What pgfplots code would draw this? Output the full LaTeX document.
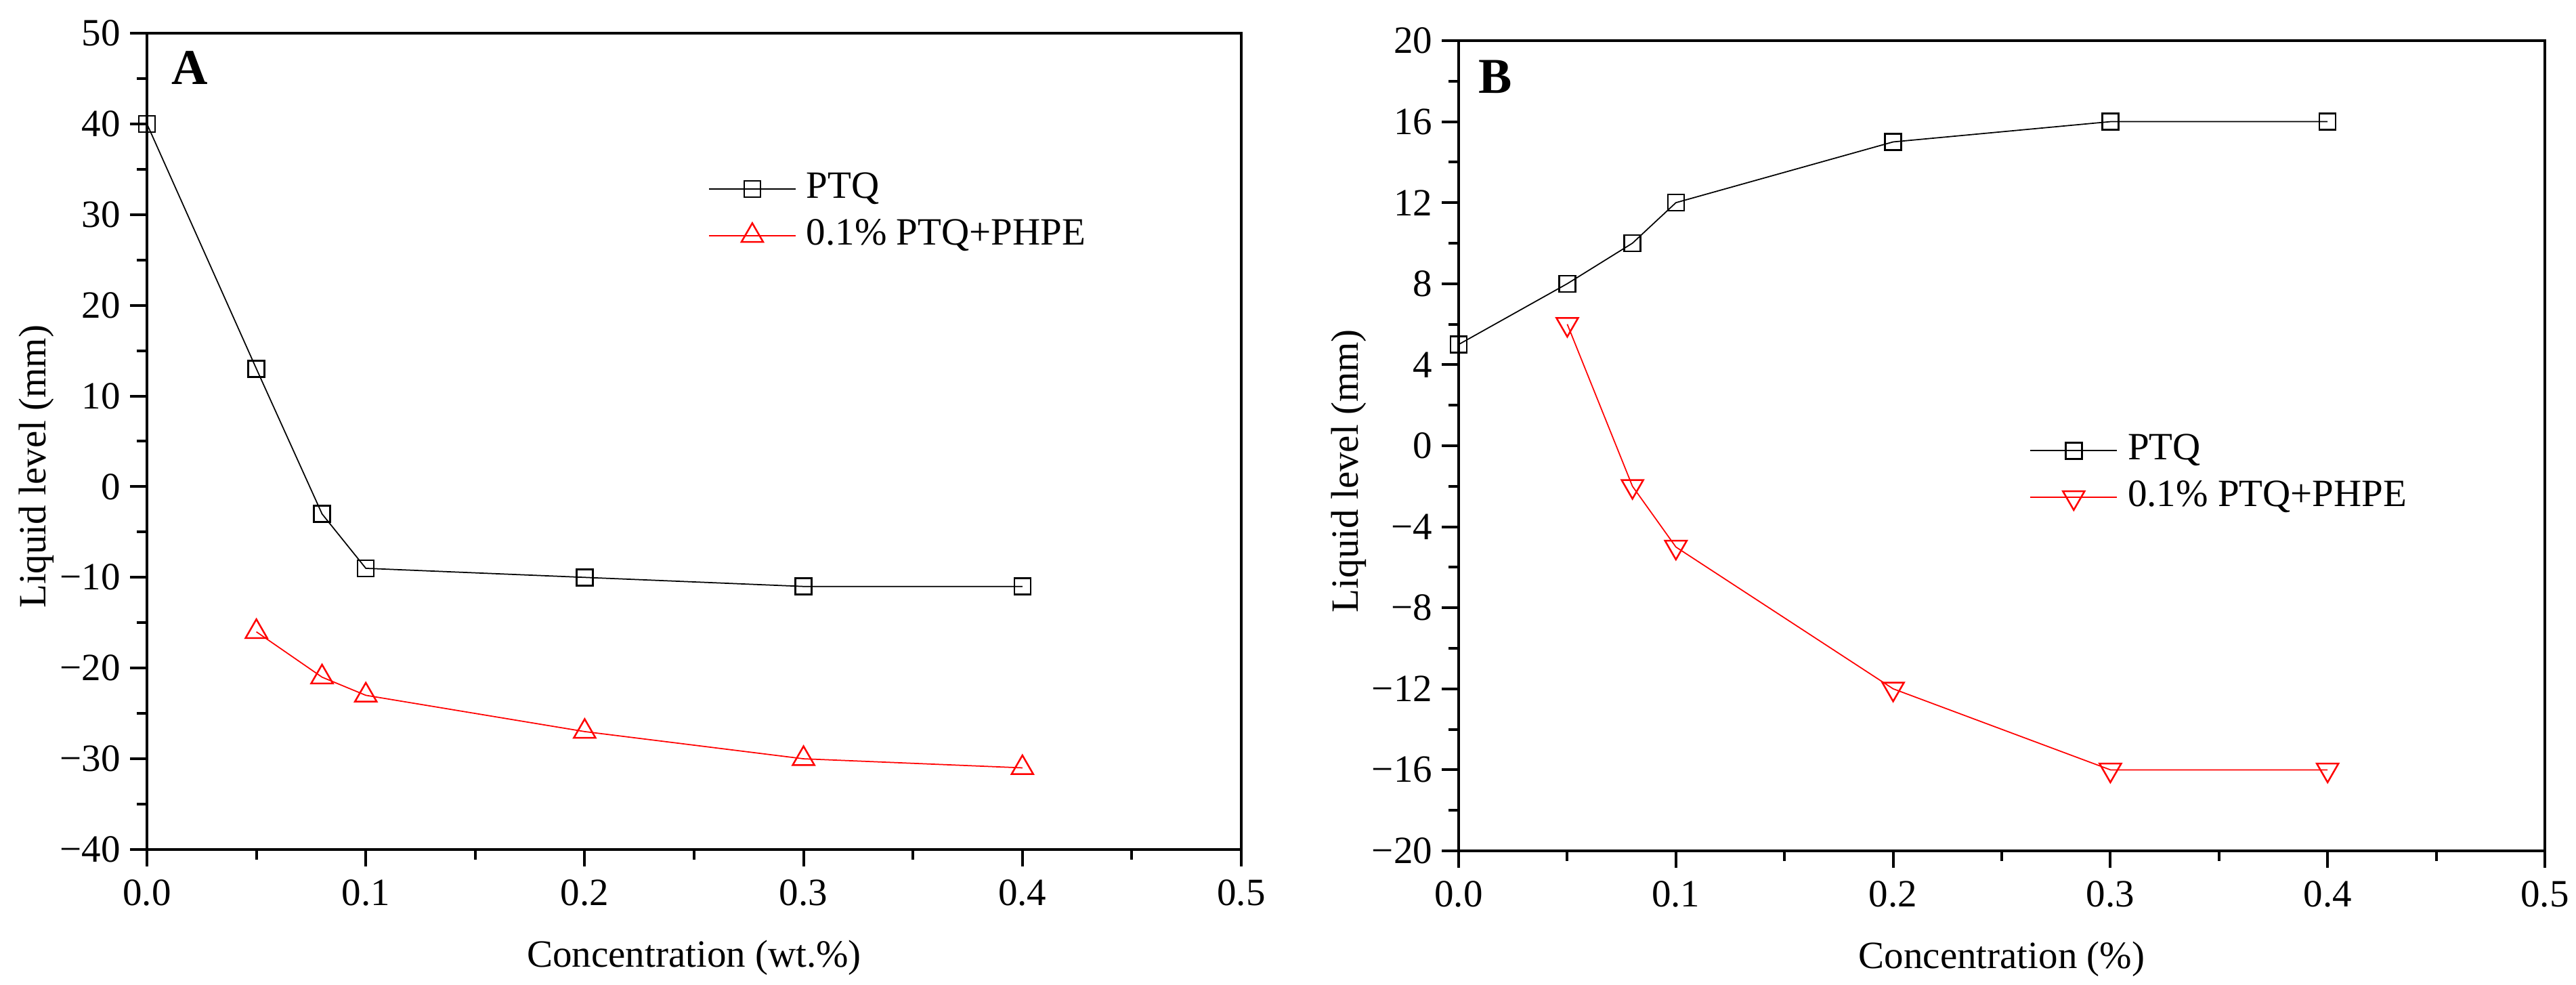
\documentclass[border=0pt]{standalone}
\usepackage{fontspec}
\setmainfont{Liberation Serif}
\usepackage{pgfplots}
\pgfplotsset{compat=1.18}

\pgfplotstableread{
x y
0 40
0.05 13
0.08 -3
0.1 -9
0.2 -10
0.3 -11
0.4 -11
}\APTQ
\pgfplotstableread{
x y
0.05 -16
0.08 -21
0.1 -23
0.2 -27
0.3 -30
0.4 -31
}\APHPE
\pgfplotstableread{
x y
0 5
0.05 8
0.08 10
0.1 12
0.2 15
0.3 16
0.4 16
}\BPTQ
\pgfplotstableread{
x y
0.05 6
0.08 -2
0.1 -5
0.2 -12
0.3 -16
0.4 -16
}\BPHPE

\pgfplotsset{
  panel/.style={
    scale only axis, anchor=south west,
    xmin=0, xmax=0.5,
    xtick={0,0.1,0.2,0.3,0.4,0.5},
    xticklabels={0.0,0.1,0.2,0.3,0.4,0.5},
    minor x tick num=1, minor y tick num=1,
    tick align=outside, xtick pos=bottom, ytick pos=left,
    major tick length=5pt, minor tick length=3pt,
    axis line style={line width=0.9pt},
    tick style={black, line width=0.8pt},
    font=\fontsize{11.4}{13.7}\selectfont,
    ticklabel style={font=\fontsize{11.4}{13.7}\selectfont},
    yticklabel style={inner sep=0pt, anchor=east, xshift=-2.6pt},
    xticklabel style={inner sep=0pt, anchor=north, yshift=-3.8pt},
    xlabel style={at={(axis description cs:0.5,0)}, anchor=base, yshift=-34.8pt, inner sep=0pt},
    ylabel style={at={(axis description cs:-0.0842,0.469)}, anchor=south, inner sep=0pt},
    legend cell align=left,
    legend style={draw=none, fill=none, inner sep=0pt, row sep=3.5pt, column sep=3pt,
      nodes={inner sep=0pt, text height=7.8pt, text depth=2.5pt, font=\fontsize{11.4}{13.7}\selectfont}},
    legend image code/.code={\draw[mark repeat=2,mark phase=2,#1] plot coordinates {(0pt,0pt) (12.8pt,0pt) (25.6pt,0pt)};},
    blk/.style={black, line width=0.35pt, mark=square, mark size=2.4pt, mark options={solid, fill=white, line width=0.5pt}},
    redl/.style={red, line width=0.35pt, mark=triangle, mark size=3.7pt, mark options={solid, fill=white, line width=0.5pt}},
    redd/.style={red, line width=0.35pt, mark=triangle, mark size=3.7pt, mark options={solid, fill=white, line width=0.5pt, rotate=180}},
  }
}

\begin{document}
\begin{tikzpicture}
\path (0,0) rectangle (760.8pt,290.8pt);
\begin{axis}[panel, at={(43.4pt,40pt)}, width=323.2pt, height=241pt,
  ymin=-40, ymax=50,
  ytick={-40,-30,-20,-10,0,10,20,30,40,50},
  yticklabels={−40,−30,−20,−10,0,10,20,30,40,50},
  xlabel={Concentration (wt.\%)}, ylabel={Liquid level (mm)},
  legend style={at={(axis cs:0.2562,30.25)}, anchor=west}]
\addplot[blk] table[x=x,y=y] {\APTQ};
\addlegendentry{PTQ}
\addplot[redl] table[x=x,y=y] {\APHPE};
\addlegendentry{0.1\% PTQ+PHPE}
\node[font=\fontsize{14.8}{17}\selectfont\bfseries, inner sep=0pt] at (rel axis cs:0.039,0.958) {A};
\end{axis}
\begin{axis}[panel, at={(430.8pt,39.6pt)}, width=320.8pt, height=239.2pt,
  ymin=-20, ymax=20,
  ytick={-20,-16,-12,-8,-4,0,4,8,12,16,20},
  yticklabels={−20,−16,−12,−8,−4,0,4,8,12,16,20},
  xlabel={Concentration (\%)}, ylabel={Liquid level (mm)},
  legend style={at={(axis cs:0.2626,-1.4)}, anchor=west}]
\addplot[blk] table[x=x,y=y] {\BPTQ};
\addlegendentry{PTQ}
\addplot[redd] table[x=x,y=y] {\BPHPE};
\addlegendentry{0.1\% PTQ+PHPE}
\node[font=\fontsize{14.8}{17}\selectfont\bfseries, inner sep=0pt] at (rel axis cs:0.034,0.955) {B};
\end{axis}
\end{tikzpicture}
\end{document}
